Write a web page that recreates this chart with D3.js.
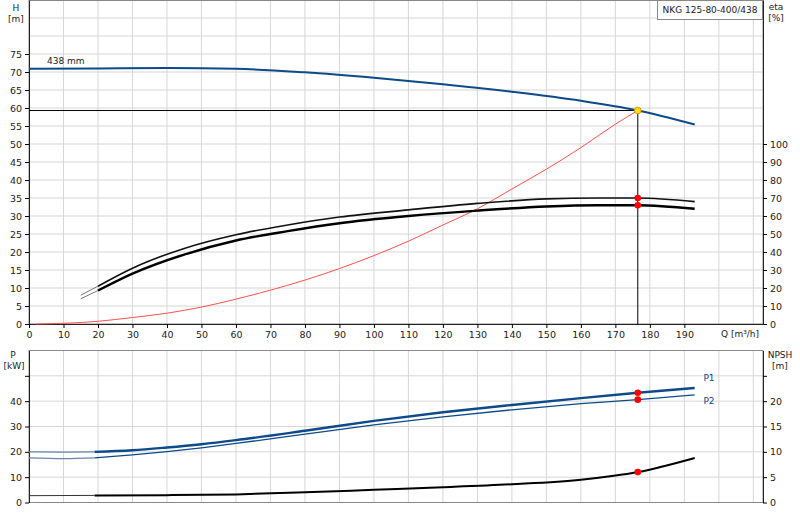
<!DOCTYPE html>
<html><head><meta charset="utf-8">
<script src="https://cdn.jsdelivr.net/npm/d3@7"></script>
<style>
body{margin:0;background:#fff}
svg text{font-family:"DejaVu Sans",sans-serif;font-size:9px;fill:#222}
</style></head>
<body><div id="chart"></div>
<script>
// Q in m3/h
const headQ = [0, 20, 40, 60, 80, 100, 120, 140, 160, 176.5, 193]
const headH = [70.9, 71, 71.1, 70.9, 69.9, 68.4, 66.6, 64.5, 62, 59.3, 55.4]
const sysQ = [2, 20, 30, 40, 50, 60, 70, 80, 90, 100, 110, 120, 130, 140, 150, 160, 170, 176.5]
const sysH = [0, 0.75, 1.8, 3, 4.7, 6.9, 9.4, 12.2, 15.4, 19, 23, 27.5, 32, 37.5, 43, 49, 55.5, 59.3]
const etaQ = [15, 20, 30, 45, 60, 75, 90, 110, 130, 150, 165, 176.5, 193]
const eta1 = [16, 21, 31, 42, 49.6, 55, 59.4, 63.4, 67, 69.5, 70, 70, 68]
const eta2 = [14, 18.6, 28, 38.6, 46.4, 51.6, 56, 60, 63, 65.3, 66, 66, 64]
const powQ = [0, 10, 19, 30, 40, 50, 60, 80, 100, 120, 140, 160, 176.5, 193]
const p1 = [20, 19.9, 20, 20.6, 21.7, 23, 24.6, 28.3, 32.2, 35.6, 38.5, 41.2, 43.3, 45.2]
const p2 = [17.6, 17.3, 17.6, 18.8, 20.1, 21.6, 23.3, 27, 30.6, 33.8, 36.6, 39, 40.6, 42.5]
const npshQ = [0, 19, 40, 60, 80, 100, 120, 140, 160, 176.5, 193]
const npsh = [1.35, 1.4, 1.45, 1.6, 2, 2.5, 3, 3.6, 4.5, 6, 8.8]
const dutyQ = 176.5
const xTicks = d3.range(0, 200, 10)

const BLUE = '#0d4a8a'
const svg = d3.select('#chart').append('svg').attr('width', 800).attr('height', 520)

const x = d3.scaleLinear().domain([0, 212.8]).range([29, 763])
const yH = d3.scaleLinear().domain([0, 90]).range([324, 0])
const yEta = d3.scaleLinear().domain([0, 180]).range([324, 0])
const yP = d3.scaleLinear().domain([0, 60]).range([502.5, 350.5])
const yN = d3.scaleLinear().domain([0, 30]).range([502.5, 350.5])

function grid (y0, y1, yScale, yVals) {
  const g = svg.append('g').attr('stroke', '#d6d6d6').attr('stroke-width', 1)
  d3.range(10, 220, 10).forEach(v => g.append('line')
    .attr('x1', x(v)).attr('x2', x(v)).attr('y1', y0).attr('y2', y1))
  yVals.forEach(v => g.append('line')
    .attr('x1', x(0)).attr('x2', x.range()[1]).attr('y1', yScale(v)).attr('y2', yScale(v)))
  svg.append('rect').attr('x', x(0)).attr('y', y0).attr('width', x.range()[1] - x(0))
    .attr('height', y1 - y0).attr('fill', 'none').attr('stroke', '#888')
}
grid(0.5, 324, yH, d3.range(5, 90, 5))
grid(350.5, 502.5, yP, d3.range(10, 60, 10))

// axes
svg.append('g').attr('transform', `translate(${x(0)},0)`)
  .call(d3.axisLeft(yH).tickValues(d3.range(0, 80, 5)).tickSize(4).tickSizeOuter(0))
svg.append('g').attr('transform', `translate(${x.range()[1]},0)`)
  .call(d3.axisRight(yEta).tickValues(d3.range(0, 110, 10)).tickSize(4).tickSizeOuter(0))
svg.append('g').attr('transform', 'translate(0,324)')
  .call(d3.axisBottom(x).tickValues(xTicks).tickSize(4).tickSizeOuter(0))
svg.append('g').attr('transform', `translate(${x(0)},0)`)
  .call(d3.axisLeft(yP).tickValues(d3.range(0, 60, 10)).tickSize(4).tickSizeOuter(0)
    .tickFormat(d => d === 50 ? '' : d))
svg.append('g').attr('transform', `translate(${x.range()[1]},0)`)
  .call(d3.axisRight(yN).tickValues(d3.range(0, 30, 5)).tickSize(4).tickSizeOuter(0)
    .tickFormat(d => d === 25 ? '' : d))
svg.selectAll('.domain').attr('stroke', '#222')
svg.selectAll('.tick text').style('font-size', '9.5px')

// labels
const txt = (s, tx, ty, anchor = 'middle', color) => svg.append('text')
  .attr('x', tx).attr('y', ty).attr('text-anchor', anchor).style('fill', color || '#222').text(s)
txt('H', 16, 11); txt('[m]', 16, 22)
txt('eta', 776, 10); txt('[%]', 776, 21)
txt('Q [m³/h]', 740, 337)
txt('P', 13, 358); txt('[kW]', 14, 369)
txt('NPSH', 780, 358); txt('[m]', 780, 369)
txt('438 mm', 47, 64, 'start')
svg.append('rect').attr('x', 657.5).attr('y', 0.5).attr('width', 105).attr('height', 19)
  .attr('fill', '#fff').attr('stroke', '#888')
txt('NKG 125-80-400/438', 710, 13)
txt('P1', 709, 381, 'middle', BLUE)
txt('P2', 709, 404, 'middle', BLUE)

const line = (xs, ys, yScale) => d3.line().curve(d3.curveMonotoneX)
  .x((d, i) => x(xs[i])).y(d => yScale(d))(ys)
const path = (d, color, w) => svg.append('path').attr('d', d).attr('fill', 'none')
  .attr('stroke', color).attr('stroke-width', w)

// duty point guides
const dutyH = headH[headQ.indexOf(dutyQ)]
svg.append('line').attr('x1', x(0)).attr('x2', x(dutyQ)).attr('y1', yH(dutyH)).attr('y2', yH(dutyH)).attr('stroke', '#000')
svg.append('line').attr('x1', x(dutyQ)).attr('x2', x(dutyQ)).attr('y1', yH(dutyH)).attr('y2', yH(0)).attr('stroke', '#000')

path(line(sysQ, sysH, yH), '#ff5050', 1)
path(line(headQ, headH, yH), BLUE, 2)

// efficiency curves: thin start, thick from Q=20
path(line(etaQ.slice(0, 2), eta1.slice(0, 2), yEta), '#777', 1)
path(line(etaQ.slice(0, 2), eta2.slice(0, 2), yEta), '#777', 1)
path(line(etaQ.slice(1), eta1.slice(1), yEta), '#111', 1.6)
path(line(etaQ.slice(1), eta2.slice(1), yEta), '#000', 2.4)

// power and npsh
path(line(powQ.slice(0, 3), p1.slice(0, 3), yP), '#6a85a8', 1.2)
path(line(powQ.slice(0, 3), p2.slice(0, 3), yP), '#6a85a8', 1.2)
path(line(powQ.slice(2), p1.slice(2), yP), BLUE, 2.4)
path(line(powQ.slice(2), p2.slice(2), yP), BLUE, 1.3)
path(line(npshQ.slice(0, 2), npsh.slice(0, 2), yN), '#333', 1)
path(line(npshQ.slice(1), npsh.slice(1), yN), '#000', 2)

// duty markers
const dot = (cx, cy, fill) => svg.append('circle').attr('cx', cx).attr('cy', cy).attr('r', 3.3)
  .attr('fill', fill).attr('stroke', fill === 'red' ? 'none' : '#e0a000')
dot(x(dutyQ), yEta(eta1[etaQ.indexOf(dutyQ)]), 'red')
dot(x(dutyQ), yEta(eta2[etaQ.indexOf(dutyQ)]), 'red')
dot(x(dutyQ), yP(p1[powQ.indexOf(dutyQ)]), 'red')
dot(x(dutyQ), yP(p2[powQ.indexOf(dutyQ)]), 'red')
dot(x(dutyQ), yN(npsh[npshQ.indexOf(dutyQ)]), 'red')
dot(x(dutyQ), yH(dutyH), '#ffe000')
</script></body></html>
